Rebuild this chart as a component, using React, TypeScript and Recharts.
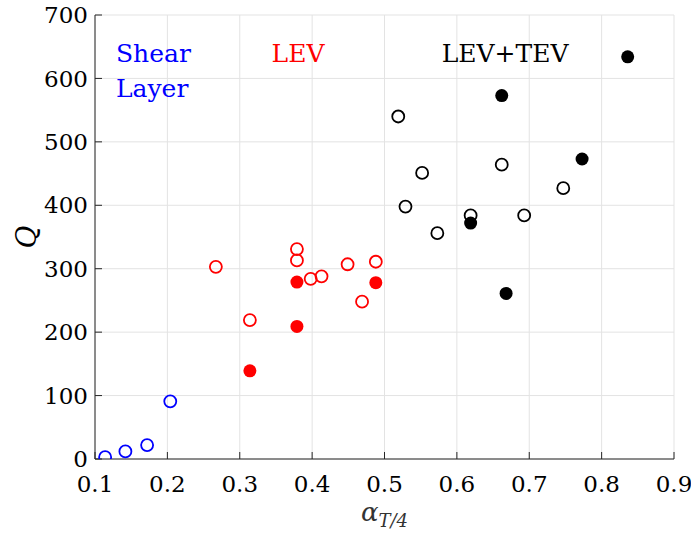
import {
  CartesianGrid,
  ReferenceDot,
  Scatter,
  ScatterChart,
  XAxis,
  YAxis,
} from 'recharts'

const xTicks = [0.1, 0.2, 0.3, 0.4, 0.5, 0.6, 0.7, 0.8, 0.9]
const yTicks = [0, 100, 200, 300, 400, 500, 600, 700]

const shearOpen = [
  { x: 0.114, y: 3 },
  { x: 0.142, y: 12 },
  { x: 0.172, y: 22 },
  { x: 0.204, y: 91 },
]

const levOpen = [
  { x: 0.267, y: 303 },
  { x: 0.314, y: 219 },
  { x: 0.379, y: 331 },
  { x: 0.379, y: 313 },
  { x: 0.398, y: 284 },
  { x: 0.413, y: 288 },
  { x: 0.449, y: 307 },
  { x: 0.469, y: 248 },
  { x: 0.488, y: 311 },
]

const levFilled = [
  { x: 0.314, y: 139 },
  { x: 0.379, y: 279 },
  { x: 0.379, y: 209 },
  { x: 0.488, y: 278 },
]

const tevOpen = [
  { x: 0.519, y: 540 },
  { x: 0.552, y: 451 },
  { x: 0.529, y: 398 },
  { x: 0.573, y: 356 },
  { x: 0.662, y: 464 },
  { x: 0.619, y: 384 },
  { x: 0.693, y: 384 },
  { x: 0.747, y: 427 },
]

const tevFilled = [
  { x: 0.662, y: 573 },
  { x: 0.773, y: 473 },
  { x: 0.836, y: 634 },
  { x: 0.619, y: 372 },
  { x: 0.668, y: 261 },
]

const labels = [
  { x: 0.129, y: 640, text: 'Shear', color: '#0000ff' },
  { x: 0.129, y: 585, text: 'Layer', color: '#0000ff' },
  { x: 0.344, y: 640, text: 'LEV', color: '#ff0000' },
  { x: 0.579, y: 640, text: 'LEV+TEV', color: '#000000' },
]

const FONT = "'DejaVu Serif', serif"
const AXIS = '#262626'

const marker = (color: string, filled: boolean) => (props: any) => (
  <circle
    cx={props.cx}
    cy={props.cy}
    r={filled ? 6.5 : 6}
    fill={filled ? color : 'none'}
    stroke={color}
    strokeWidth={filled ? 0 : 1.8}
  />
)

const tickStyle = { fontFamily: FONT, fontSize: 23, fill: '#000' }

export default function App() {
  return (
    <div
      style={{
        position: 'absolute',
        left: 0,
        top: 0,
        background: '#fff',
        fontFamily: FONT,
      }}
    >
      <ScatterChart
        width={691}
        height={536}
        margin={{ top: 15, right: 17, bottom: 17, left: 15 }}
        style={{ fontFamily: FONT }}
      >
        <CartesianGrid stroke="#e3e3e3" strokeWidth={1} />
        <XAxis
          type="number"
          dataKey="x"
          domain={[0.1, 0.9]}
          ticks={xTicks}
          allowDataOverflow
          tickFormatter={(v: number) => v.toFixed(1)}
          height={60}
          stroke={AXIS}
          tickSize={-7}
          tickMargin={24}
          tick={tickStyle}
          label={{
            content: ({ viewBox }: any) => (
              <text
                x={viewBox.x + viewBox.width / 2}
                y={viewBox.y + 62}
                textAnchor="middle"
                style={{ fontFamily: FONT, fontStyle: 'italic' }}
                fill="#333"
              >
                <tspan fontSize={26}>α</tspan>
                <tspan fontSize={18} dy={6}>T/4</tspan>
              </text>
            ),
          }}
        />
        <XAxis
          xAxisId="top"
          orientation="top"
          type="number"
          domain={[0.1, 0.9]}
          ticks={xTicks}
          height={0}
          stroke={AXIS}
          tickSize={-7}
          tick={false}
        />
        <YAxis
          type="number"
          dataKey="y"
          domain={[0, 700]}
          ticks={yTicks}
          allowDataOverflow
          width={80}
          stroke={AXIS}
          tickSize={-7}
          tickMargin={14}
          tick={tickStyle}
          label={{
            content: ({ viewBox }: any) => (
              <text
                x={viewBox.x + 11}
                y={viewBox.y + viewBox.height / 2}
                textAnchor="middle"
                dominantBaseline="central"
                transform={`rotate(-90 ${viewBox.x + 11} ${viewBox.y + viewBox.height / 2})`}
                style={{ fontFamily: FONT, fontStyle: 'italic' }}
                fontSize={28}
                fill="#000"
              >
                Q
              </text>
            ),
          }}
        />
        <YAxis
          yAxisId="right"
          orientation="right"
          type="number"
          domain={[0, 700]}
          ticks={yTicks}
          width={0}
          stroke={AXIS}
          tickSize={-7}
          tick={false}
        />
        <Scatter data={shearOpen} shape={marker('#0000ff', false)} isAnimationActive={false} />
        <Scatter data={levOpen} shape={marker('#ff0000', false)} isAnimationActive={false} />
        <Scatter data={levFilled} shape={marker('#ff0000', true)} isAnimationActive={false} />
        <Scatter data={tevOpen} shape={marker('#000000', false)} isAnimationActive={false} />
        <Scatter data={tevFilled} shape={marker('#000000', true)} isAnimationActive={false} />
        {labels.map((l) => (
          <ReferenceDot
            key={l.text + l.y}
            x={l.x}
            y={l.y}
            r={0}
            fill="none"
            stroke="none"
            label={{
              value: l.text,
              position: 'right',
              offset: 0,
              fill: l.color,
              fontFamily: FONT,
              fontSize: 25,
            }}
          />
        ))}
      </ScatterChart>
    </div>
  )
}
